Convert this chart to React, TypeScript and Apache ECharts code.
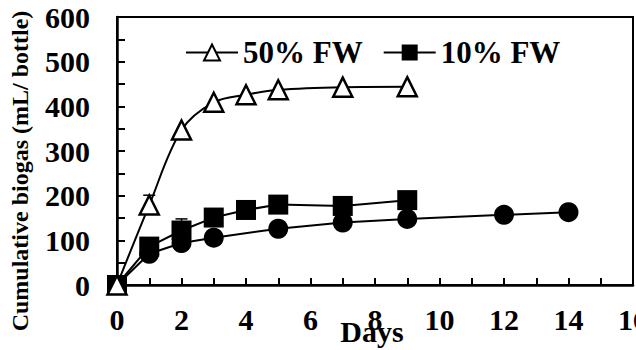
import React, { useEffect, useRef } from "react";
import * as echarts from "echarts";

const FONT = "Liberation Serif";

const daysFW50 = [0, 1, 2, 3, 4, 5, 7, 9];
const biogasFW50 = [0, 179, 347, 409, 426, 437, 443, 444];
const errFW50 = [0, 22, 0, 0, 0, 0, 0, 0];

const daysFW10 = [0, 1, 2, 3, 4, 5, 7, 9];
const biogasFW10 = [0, 86, 122, 151, 168, 180, 177, 190];
const errFW10 = [0, 0, 26, 0, 0, 0, 0, 0];

const daysCtrl = [0, 1, 2, 3, 5, 7, 9, 12, 14];
const biogasCtrl = [0, 70, 94, 106, 126, 140, 148, 157, 163];

const legendNames = ["50% FW", "10% FW"];
const xTitle = "Days";
const yTitle = "Cumulative biogas (mL/ bottle)";

function zip(xs: number[], ys: number[]) {
  return xs.map((x, i) => [x, ys[i]]);
}

function errSeries(xs: number[], ys: number[], es: number[]) {
  return {
    type: "custom",
    silent: true,
    z: 1,
    data: xs.map((x, i) => [x, ys[i], es[i]]).filter((d) => d[2] > 0),
    renderItem: (params: any, api: any) => {
      const x = api.value(0);
      const y = api.value(1);
      const e = api.value(2);
      const p0 = api.coord([x, y]);
      const p1 = api.coord([x, y + e]);
      return {
        type: "group",
        children: [
          { type: "line", shape: { x1: p0[0], y1: p0[1], x2: p1[0], y2: p1[1] }, style: { stroke: "#000", lineWidth: 1.5 } },
          { type: "line", shape: { x1: p1[0] - 6, y1: p1[1], x2: p1[0] + 6, y2: p1[1] }, style: { stroke: "#000", lineWidth: 1.5 } },
        ],
      };
    },
  };
}

export default function App() {
  const ref = useRef<HTMLDivElement>(null);
  useEffect(() => {
    if (!ref.current) return;
    const chart = echarts.init(ref.current, undefined, { renderer: "svg" });
    chart.setOption({
      animation: false,
      grid: {
        left: 117,
        right: 3,
        top: 17,
        bottom: 65,
        outerBoundsMode: "none",
        containLabel: false,
        show: true,
        borderColor: "#000",
        borderWidth: 2,
      },
      legend: {
        data: legendNames,
        left: 180,
        top: 32,
        itemWidth: 52,
        itemHeight: 20,
        itemGap: 20,
        textStyle: { fontFamily: FONT, fontWeight: "bold", fontSize: 31, color: "#000" },
      },
      xAxis: {
        type: "value",
        min: 0,
        max: 16,
        interval: 1,
        axisLine: { show: true, onZero: false, lineStyle: { color: "#000", width: 2.5 } },
        axisTick: { show: true, inside: true, length: 7, lineStyle: { color: "#000", width: 2 } },
        axisLabel: {
          margin: 19,
          fontFamily: FONT,
          fontWeight: "bold",
          fontSize: 30,
          color: "#000",
          formatter: (v: number) => (v % 2 === 0 ? String(v) : ""),
        },
        splitLine: { show: false },
      },
      yAxis: {
        type: "value",
        min: 0,
        max: 600,
        interval: 50,
        axisLine: { show: true, lineStyle: { color: "#000", width: 2.5 } },
        axisTick: { show: true, inside: true, length: 8, lineStyle: { color: "#000", width: 2 } },
        axisLabel: {
          margin: 27,
          fontFamily: FONT,
          fontWeight: "bold",
          fontSize: 30,
          color: "#000",
          formatter: (v: number) => (v % 100 === 0 ? String(v) : ""),
        },
        splitLine: { show: false },
      },
      graphic: [
        {
          type: "text",
          x: 20,
          y: 171,
          rotation: Math.PI / 2,
          style: {
            text: yTitle,
            fontFamily: FONT,
            fontWeight: "bold",
            fontSize: 24,
            fill: "#000",
            align: "center",
            verticalAlign: "middle",
          },
        },
        {
          type: "text",
          x: 372,
          y: 331,
          z: 100,
          style: {
            text: xTitle,
            fontFamily: FONT,
            fontWeight: "bold",
            fontSize: 30,
            fill: "#000",
            align: "center",
            verticalAlign: "middle",
          },
        },
      ],
      series: [
        {
          name: "Control",
          type: "line",
          data: zip(daysCtrl, biogasCtrl),
          symbol: "circle",
          symbolSize: 20,
          itemStyle: { color: "#000" },
          lineStyle: { color: "#000", width: 2 },
          z: 2,
        },
        errSeries(daysFW10, biogasFW10, errFW10),
        {
          name: "10% FW",
          type: "line",
          data: zip(daysFW10, biogasFW10),
          symbol: "rect",
          symbolSize: 20,
          itemStyle: { color: "#000" },
          lineStyle: { color: "#000", width: 2 },
          z: 3,
        },
        errSeries(daysFW50, biogasFW50, errFW50),
        {
          name: "50% FW",
          type: "line",
          data: zip(daysFW50, biogasFW50),
          smooth: 0.35,
          symbol: "triangle",
          symbolSize: 19,
          itemStyle: { color: "#fff", borderColor: "#000", borderWidth: 2.5 },
          lineStyle: { color: "#000", width: 2 },
          z: 4,
        },
      ],
    });
    return () => chart.dispose();
  }, []);
  return <div ref={ref} style={{ width: 636, height: 350, position: "absolute", left: 0, top: 0 }} />;
}
